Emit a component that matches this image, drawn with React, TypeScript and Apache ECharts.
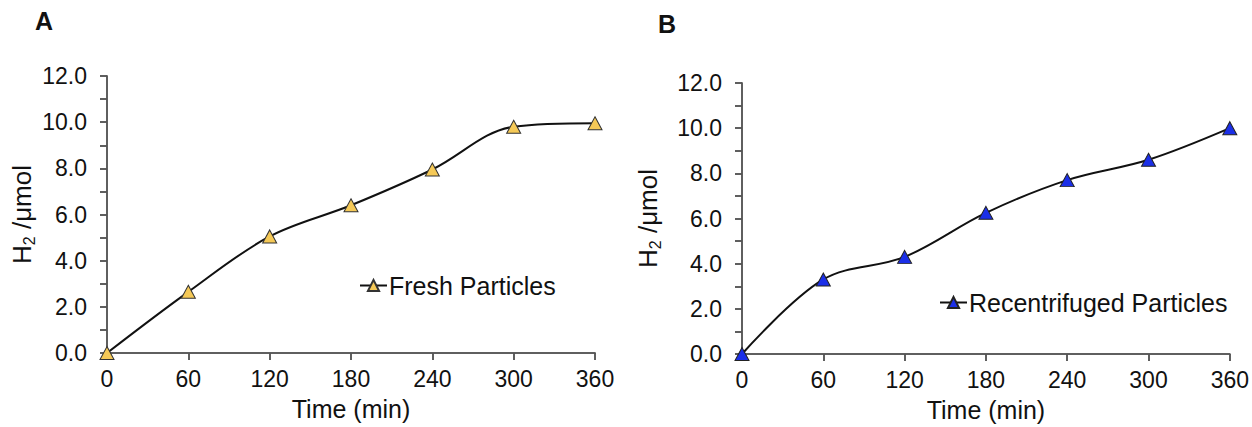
import React, { useEffect, useRef } from "react";
import * as echarts from "echarts";

const times = [0, 60, 120, 180, 240, 300, 360];
const freshValues = [0, 2.65, 5.05, 6.4, 7.95, 9.8, 9.95];
const recentValues = [0, 3.3, 4.3, 6.25, 7.7, 8.6, 10.0];
const seriesNames = ["Fresh Particles", "Recentrifuged Particles"];
const panelLabels = ["A", "B"];
const xTitle = "Time (min)";

const FONT = "Liberation Sans, Arial, sans-serif";
const AXIS_COLOR = "#555";

function makeAxes(gridIndex: number, nameGap: number) {
  const xBase = {
    type: "value",
    gridIndex,
    min: 0,
    max: 360,
    interval: 60,
    splitLine: { show: false },
    axisLine: { show: true, lineStyle: { color: AXIS_COLOR, width: 1.5 } },
  };
  const yBase = {
    type: "value",
    gridIndex,
    min: 0,
    max: 12,
    interval: 1,
    splitLine: { show: false },
    axisLine: { show: true, lineStyle: { color: AXIS_COLOR, width: 1.5 } },
  };
  const xAxes = [
    {
      ...xBase,
      axisTick: { show: true, length: 7, lineStyle: { color: AXIS_COLOR, width: 1.5 } },
      axisLabel: { fontSize: 23, color: "#111", fontFamily: FONT, margin: 14 },
      name: xTitle,
      nameLocation: "middle",
      nameGap: 43,
      nameTextStyle: { fontSize: 25, color: "#111", fontFamily: FONT },
    },
    {
      ...xBase,
      axisTick: { show: true, inside: true, length: 7, lineStyle: { color: AXIS_COLOR, width: 1.5 } },
      axisLabel: { show: false },
    },
  ];
  const yAxes = [
    {
      ...yBase,
      axisTick: { show: true, length: 7, lineStyle: { color: AXIS_COLOR, width: 1.5 } },
      axisLabel: {
        fontSize: 23,
        color: "#111",
        fontFamily: FONT,
        margin: 20,
        formatter: (v: number) => (Math.round(v) % 2 === 0 ? v.toFixed(1) : ""),
      },
      name: "{a|H}{b|2}{a| /μmol}",
      nameLocation: "middle",
      nameRotate: 90,
      nameGap,
      nameTextStyle: {
        fontFamily: FONT,
        color: "#111",
        rich: {
          a: { fontSize: 26, fontFamily: FONT, color: "#111" },
          b: { fontSize: 16, fontFamily: FONT, color: "#111", verticalAlign: "bottom", padding: [14, 0, 0, 0] },
        },
      },
    },
    {
      ...yBase,
      axisTick: { show: true, inside: true, length: 7, lineStyle: { color: AXIS_COLOR, width: 1.5 } },
      axisLabel: { show: false },
    },
  ];
  return { xAxes, yAxes };
}

export default function App() {
  const ref = useRef<HTMLDivElement>(null);
  useEffect(() => {
    if (!ref.current) return;
    const chart = echarts.init(ref.current, null, { renderer: "svg" });
    const a = makeAxes(0, 70);
    const b = makeAxes(1, 79);
    const option = {
      animation: false,
      backgroundColor: "#ffffff",
      textStyle: { fontFamily: FONT },
      title: [
        { text: panelLabels[0], left: 30, top: 3, textStyle: { fontSize: 25, fontWeight: "bold", color: "#111", fontFamily: FONT } },
        { text: panelLabels[1], left: 653, top: 6, textStyle: { fontSize: 25, fontWeight: "bold", color: "#111", fontFamily: FONT } },
      ],
      legend: [
        {
          data: [seriesNames[0]],
          left: 354,
          top: 268,
          itemWidth: 27,
          itemHeight: 14,
          itemGap: 0,
          textStyle: { fontSize: 25, color: "#111", fontFamily: FONT, padding: [0, 0, 0, -3] },
        },
        {
          data: [seriesNames[1]],
          left: 934,
          top: 285,
          itemWidth: 27,
          itemHeight: 14,
          itemGap: 0,
          textStyle: { fontSize: 25, color: "#111", fontFamily: FONT, padding: [0, 0, 0, -3] },
        },
      ],
      grid: [
        { left: 107, top: 76, width: 488, height: 277 },
        { left: 742, top: 83, width: 488, height: 271 },
      ],
      xAxis: [...a.xAxes, ...b.xAxes],
      yAxis: [...a.yAxes, ...b.yAxes],
      series: [
        {
          name: seriesNames[0],
          type: "line",
          xAxisIndex: 0,
          yAxisIndex: 0,
          data: times.map((t, i) => [t, freshValues[i]]),
          smooth: 0.35,
          symbol: "triangle",
          symbolSize: [14, 13],
          lineStyle: { color: "#111", width: 2 },
          itemStyle: { color: "#F5C957", borderColor: "#333", borderWidth: 1 },
          z: 5,
        },
        {
          name: seriesNames[1],
          type: "line",
          xAxisIndex: 2,
          yAxisIndex: 2,
          data: times.map((t, i) => [t, recentValues[i]]),
          smooth: 0.35,
          symbol: "triangle",
          symbolSize: [14, 13],
          lineStyle: { color: "#111", width: 2 },
          itemStyle: { color: "#1B2FE8", borderColor: "#222", borderWidth: 1 },
          z: 5,
        },
      ],
    };
    chart.setOption(option as any);
    return () => chart.dispose();
  }, []);
  return (
    <div
      ref={ref}
      style={{ position: "absolute", left: 0, top: 0, width: 1252, height: 427 }}
    />
  );
}
